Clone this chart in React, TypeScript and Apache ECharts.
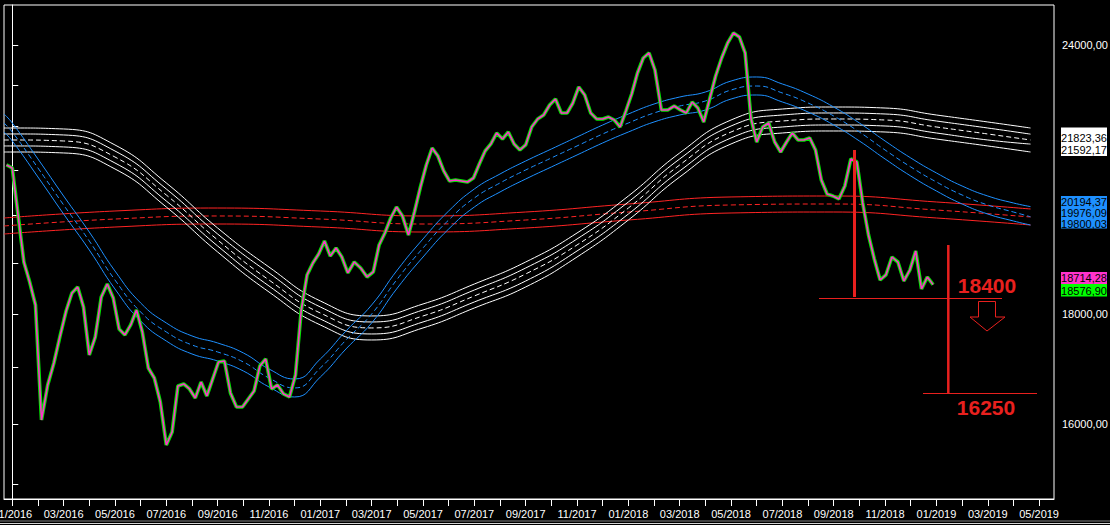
import React, { useEffect, useRef } from 'react';
import * as echarts from 'echarts';

// ---------- DATA ----------
// weekly closes (Fridays) starting at priceStart
const priceStart = '2015-12-25';
const weeklyClose = [
  21115, 21047, 20014, 19032, 18629, 18177, 16071, 16685, 17082, 17584,
  18060, 18411, 18530, 18138, 17230, 17565, 18333, 18589, 18313, 17716,
  17603, 17792, 18079, 17659, 16991, 16810, 16384, 15647, 15866, 16667,
  16703, 16614, 16454, 16738, 16490, 16792, 17101, 17119, 16543, 16297,
  16297, 16437, 16578, 17028, 17156, 16614, 16685, 16525, 16472, 16865,
  18079, 18770, 19012, 19196, 19465, 19155, 19320, 19134, 18810, 19032,
  18911, 18729, 18830, 19382, 19632, 19950, 20186, 19993, 19590, 20078,
  20623, 21115, 21502, 21319, 20980, 20756, 20778, 20756, 20734, 20823,
  21138, 21433, 21595, 21850, 21710, 21873, 21595, 21456, 21572, 21991,
  22180, 22275, 22515, 22659, 22323, 22323, 22563, 22953, 22757, 22323,
  22180, 22180, 22227, 22156, 21991, 22370, 22781, 23299, 23676, 23804,
  23374, 22394, 22394, 22490, 22394, 22323, 22587, 22442, 22109, 22659,
  23225, 23676, 24060, 24320, 24215, 23804, 22204, 21641, 21991, 22085,
  21641, 21410, 21641, 21850, 21687, 21687, 21734, 21456, 20778, 20469,
  20425, 20360, 20645, 21251, 21183, 20273, 19590, 19094, 18669, 18770,
  19134, 19032, 18649, 18870, 19258, 18490, 18729, 18576.9,
];

// white envelope (slow average), sampled every two months
const whiteDates = [
  '2015-12-22', '2016-01-01', '2016-03-01', '2016-05-01', '2016-07-01', '2016-09-01',
  '2016-11-01', '2017-01-01', '2017-03-01', '2017-05-01', '2017-07-01', '2017-09-01',
  '2017-11-01', '2018-01-01', '2018-03-01', '2018-05-01', '2018-07-01', '2018-09-01',
  '2018-11-01', '2019-01-01', '2019-03-01', '2019-04-21',
];
const whiteUpper2 = [21967, 21967, 21944, 21572, 20712, 19737, 18930, 18255, 17964, 18196, 18589, 19032, 19632, 20425, 21388, 22156, 22418, 22466, 22442, 22275, 22109, 21967];
const whiteUpper1 = [21827, 21827, 21804, 21433, 20579, 19611, 18810, 18138, 17849, 18079, 18470, 18910, 19507, 20295, 21251, 22014, 22275, 22323, 22299, 22132, 21967, 21823.36];
const whiteMid = [21687, 21687, 21664, 21296, 20447, 19486, 18669, 18021, 17735, 17964, 18353, 18790, 19382, 20164, 21115, 21873, 22132, 22180, 22156, 21991, 21827, 21687];
const whiteLower1 = [21549, 21549, 21526, 21160, 20316, 19361, 18550, 17906, 17621, 17849, 18235, 18649, 19258, 20035, 20980, 21734, 21991, 22038, 22014, 21850, 21687, 21592.17];
const whiteLower2 = [21410, 21410, 21388, 21025, 20186, 19237, 18431, 17792, 17508, 17735, 18118, 18530, 19134, 19907, 20845, 21595, 21850, 21897, 21873, 21710, 21549, 21410];

// blue envelope (medium average), sampled monthly
const blueMonthCount = 40; // 2016-01 .. 2019-04
const blueUpper = [22299, 22085, 21251, 20425, 19653, 18850, 18216, 17830, 17584, 17452, 17267, 16973, 16792, 17156, 17678, 18177, 18870, 19507, 20100, 20579, 20912, 21205, 21479, 21757, 22038, 22299, 22538, 22708, 22830, 23100, 23200, 23026, 22781, 22466, 22085, 21664, 21274, 20935, 20645, 20425, 20273, 20194.37];
const blueMid = [22085, 21873, 21047, 20230, 19465, 18669, 18041, 17659, 17415, 17285, 17101, 16810, 16632, 16991, 17508, 18002, 18689, 19320, 19907, 20382, 20712, 21002, 21274, 21549, 21827, 22085, 22323, 22490, 22611, 22879, 22977, 22806, 22563, 22251, 21873, 21456, 21070, 20734, 20447, 20230, 20078, 19976.09];
const blueLower = [21873, 21664, 20845, 20035, 19278, 18490, 17868, 17489, 17248, 17119, 16937, 16650, 16472, 16828, 17341, 17830, 18510, 19134, 19716, 20186, 20513, 20800, 21070, 21342, 21618, 21873, 22109, 22275, 22394, 22659, 22757, 22587, 22346, 22038, 21664, 21251, 20867, 20535, 20251, 20035, 19886, 19800.03];

// red envelope (long average)
const redDates = ['2015-12-22', '2016-05-01', '2016-09-01', '2017-01-01', '2017-05-01', '2017-09-01', '2018-01-01', '2018-05-01', '2018-09-01', '2019-01-01', '2019-04-21'];
const redUpper = [19950, 20100, 20164, 20100, 19993, 20078, 20251, 20404, 20425, 20295, 20143];
const redMid = [19780, 19928, 19993, 19928, 19822, 19907, 20078, 20230, 20251, 20121, 19971];
const redLower = [19611, 19758, 19822, 19758, 19653, 19737, 19907, 20057, 20078, 19950, 19801];

// axes
const xStart = '2015-12-22';
const xEnd = '2019-05-19';
const yMinValue = 14768;
const yMaxValue = 25058;
const yTickValues = [15000, 16000, 17000, 18000, 19000, 20000, 21000, 22000, 23000, 24000];
const yLabelValues = [16000, 18000, 24000];

// right-hand price tags
const whiteTags = ['21823,36', '21592,17'];
const blueTags = ['20194,37', '19976,09', '19800,03'];
const magentaTag = '18714,28';
const greenTag = '18576,90';

// annotation texts
const levelTop = '18400';
const levelTarget = '16250';

// ---------- HELPERS ----------
const DAY = 86400000;
function parseDate(s: string): number {
  const [y, m, d] = s.split('-').map(Number);
  return Date.UTC(y, m - 1, d);
}
function monthIndex(t: number): number {
  const dt = new Date(t);
  const y = dt.getUTCFullYear();
  const mo = dt.getUTCMonth();
  const d = dt.getUTCDate();
  const dim = new Date(Date.UTC(y, mo + 1, 0)).getUTCDate();
  return (y - 2016) * 12 + mo + (d - 1) / dim;
}
const pairs = (dates: string[], vals: number[]) =>
  dates.map((d, i) => [monthIndex(parseDate(d)), Math.log(vals[i])]);

const FONT = '"Liberation Sans", Arial, Helvetica, sans-serif';

export default function App() {
  const ref = useRef<HTMLDivElement>(null);

  useEffect(() => {
    if (!ref.current) return;
    const chart = echarts.init(ref.current, undefined, { renderer: 'svg' });

    const t0 = parseDate(priceStart);
    const priceData = weeklyClose.map((v, k) => [monthIndex(t0 + 7 * k * DAY), Math.log(v)]);

    const blueDates = [
      '2015-12-22',
      ...Array.from({ length: blueMonthCount }, (_, i) =>
        `${2016 + Math.floor(i / 12)}-${String((i % 12) + 1).padStart(2, '0')}-01`),
      '2019-04-21',
    ];

    const band = (data: number[][], color: string, dashed: boolean) => ({
      type: 'line',
      data,
      showSymbol: false,
      symbol: 'none',
      smooth: 0.5,
      silent: true,
      lineStyle: { color, width: 1, type: dashed ? [5, 3] : 'solid' },
    });

    const monthTicks = Array.from({ length: 41 }, (_, i) => i);
    const monthLabels = monthTicks.filter((i) => i % 2 === 0);

    const textEl = (text: string, x: number, y: number, fill: string, z: number, font = `11px ${FONT}`, align = 'center') => ({
      type: 'text',
      x,
      y,
      z,
      silent: true,
      style: {
        text,
        fill,
        font,
        align,
        textAlign: align,
        verticalAlign: 'middle',
        textVerticalAlign: 'middle',
      },
    });
    const rectEl = (x: number, y: number, w: number, h: number, fill: string, z: number) => ({
      type: 'rect', z, silent: true, shape: { x, y, width: w, height: h }, style: { fill },
    });
    const lineEl = (x1: number, y1: number, x2: number, y2: number, w: number, stroke: string, z = 120) => ({
      type: 'line', z, silent: true, shape: { x1, y1, x2, y2 }, style: { stroke, lineWidth: w },
    });
    const RED = '#e8201e';

    chart.setOption({
      animation: false,
      backgroundColor: '#000',
      grid: {
        left: 4, right: 56, top: 5, bottom: 26,
        containLabel: false,
        outerBoundsMode: 'none',
        show: true, borderColor: '#ffffff', borderWidth: 1, backgroundColor: '#000',
      },
      xAxis: {
        type: 'value',
        min: monthIndex(parseDate(xStart)),
        max: monthIndex(parseDate(xEnd)),
        splitLine: { show: false },
        axisLine: { show: true, onZero: false, lineStyle: { color: '#fff', width: 1 } },
        axisTick: { show: true, length: 7, customValues: monthTicks, lineStyle: { color: '#fff' } },
        axisLabel: {
          customValues: monthLabels,
          color: '#fff',
          fontSize: 11,
          fontFamily: FONT,
          margin: 9,
          formatter: (m: number) => {
            const mi = Math.round(m);
            const mm = ((mi % 12) + 12) % 12 + 1;
            const yy = 2016 + Math.floor(mi / 12);
            return `${String(mm).padStart(2, '0')}/${yy}`;
          },
        },
      },
      yAxis: {
        type: 'value',
        position: 'right',
        min: Math.log(yMinValue),
        max: Math.log(yMaxValue),
        splitLine: { show: false },
        axisLine: { show: true, lineStyle: { color: '#fff', width: 1 } },
        axisTick: { show: true, length: 6, customValues: yTickValues.map(Math.log), lineStyle: { color: '#fff' } },
        axisLabel: {
          customValues: yLabelValues.map(Math.log),
          color: '#fff',
          fontSize: 11,
          fontFamily: FONT,
          margin: 8,
          formatter: (v: number) => Math.round(Math.exp(v)).toFixed(2).replace('.', ','),
        },
      },
      series: [
        band(pairs(redDates, redUpper), '#ff2424', false),
        band(pairs(redDates, redMid), '#ff2424', true),
        band(pairs(redDates, redLower), '#ff2424', false),
        band(pairs(whiteDates, whiteUpper2), '#ffffff', false),
        band(pairs(whiteDates, whiteUpper1), '#ffffff', false),
        band(pairs(whiteDates, whiteMid), '#ffffff', true),
        band(pairs(whiteDates, whiteLower1), '#ffffff', false),
        band(pairs(whiteDates, whiteLower2), '#ffffff', false),
        band(pairs(blueDates, blueUpper), '#1e90ff', false),
        band(pairs(blueDates, blueMid), '#1e90ff', true),
        band(pairs(blueDates, blueLower), '#1e90ff', false),
        {
          type: 'line', data: priceData, showSymbol: false, symbol: 'none', silent: true,
          lineStyle: { color: '#00e600', width: 3.6 },
        },
        {
          type: 'line', data: priceData, showSymbol: false, symbol: 'none', silent: true,
          lineStyle: { color: '#ff33cc', width: 1.6 },
        },
      ],
      graphic: {
        elements: [
          rectEl(1061, 127.5, 46, 28.5, '#ffffff', 100),
          textEl(whiteTags[0], 1084, 137.5, '#000', 101),
          textEl(whiteTags[1], 1084, 149.5, '#000', 101),
          rectEl(1061, 196, 46, 32.5, '#1e90ff', 100),
          textEl(blueTags[2], 1084, 223.5, '#000', 101),
          textEl(blueTags[1], 1084, 212.5, '#000', 102),
          textEl(blueTags[0], 1084, 201.5, '#000', 102),
          rectEl(1061, 272, 46, 12, '#ff33cc', 100),
          textEl(magentaTag, 1084, 278, '#000', 101),
          rectEl(1061, 284, 46, 12.5, '#00ff00', 103),
          textEl(greenTag, 1084, 290.5, '#000', 104),
          // annotations
          lineEl(854.5, 150, 854.5, 297, 3, RED),
          lineEl(819, 298.5, 1002, 298.5, 1, RED),
          lineEl(948.3, 245, 948.3, 393, 2.5, RED),
          lineEl(923, 393.5, 1037, 393.5, 1, RED),
          textEl(levelTop, 987, 285, RED, 121, `bold 21px ${FONT}`),
          textEl(levelTarget, 986, 407, RED, 121, `bold 21px ${FONT}`),
          {
            type: 'polygon', z: 121, silent: true,
            shape: { points: [[978.5, 301.5], [995.5, 301.5], [995.5, 317], [1005, 317], [987, 331], [970, 317], [978.5, 317]] },
            style: { fill: 'transparent', stroke: RED, lineWidth: 1 },
          },
          // window bottom edge
          lineEl(0, 521, 1110, 521, 1, '#808080', 90),
          lineEl(0, 523.5, 1110, 523.5, 1, '#d4d4d4', 90),
        ],
      },
    });

    return () => chart.dispose();
  }, []);

  return (
    <div
      ref={ref}
      style={{ position: 'fixed', left: 0, top: 0, width: 1110, height: 525, background: '#000' }}
    />
  );
}
